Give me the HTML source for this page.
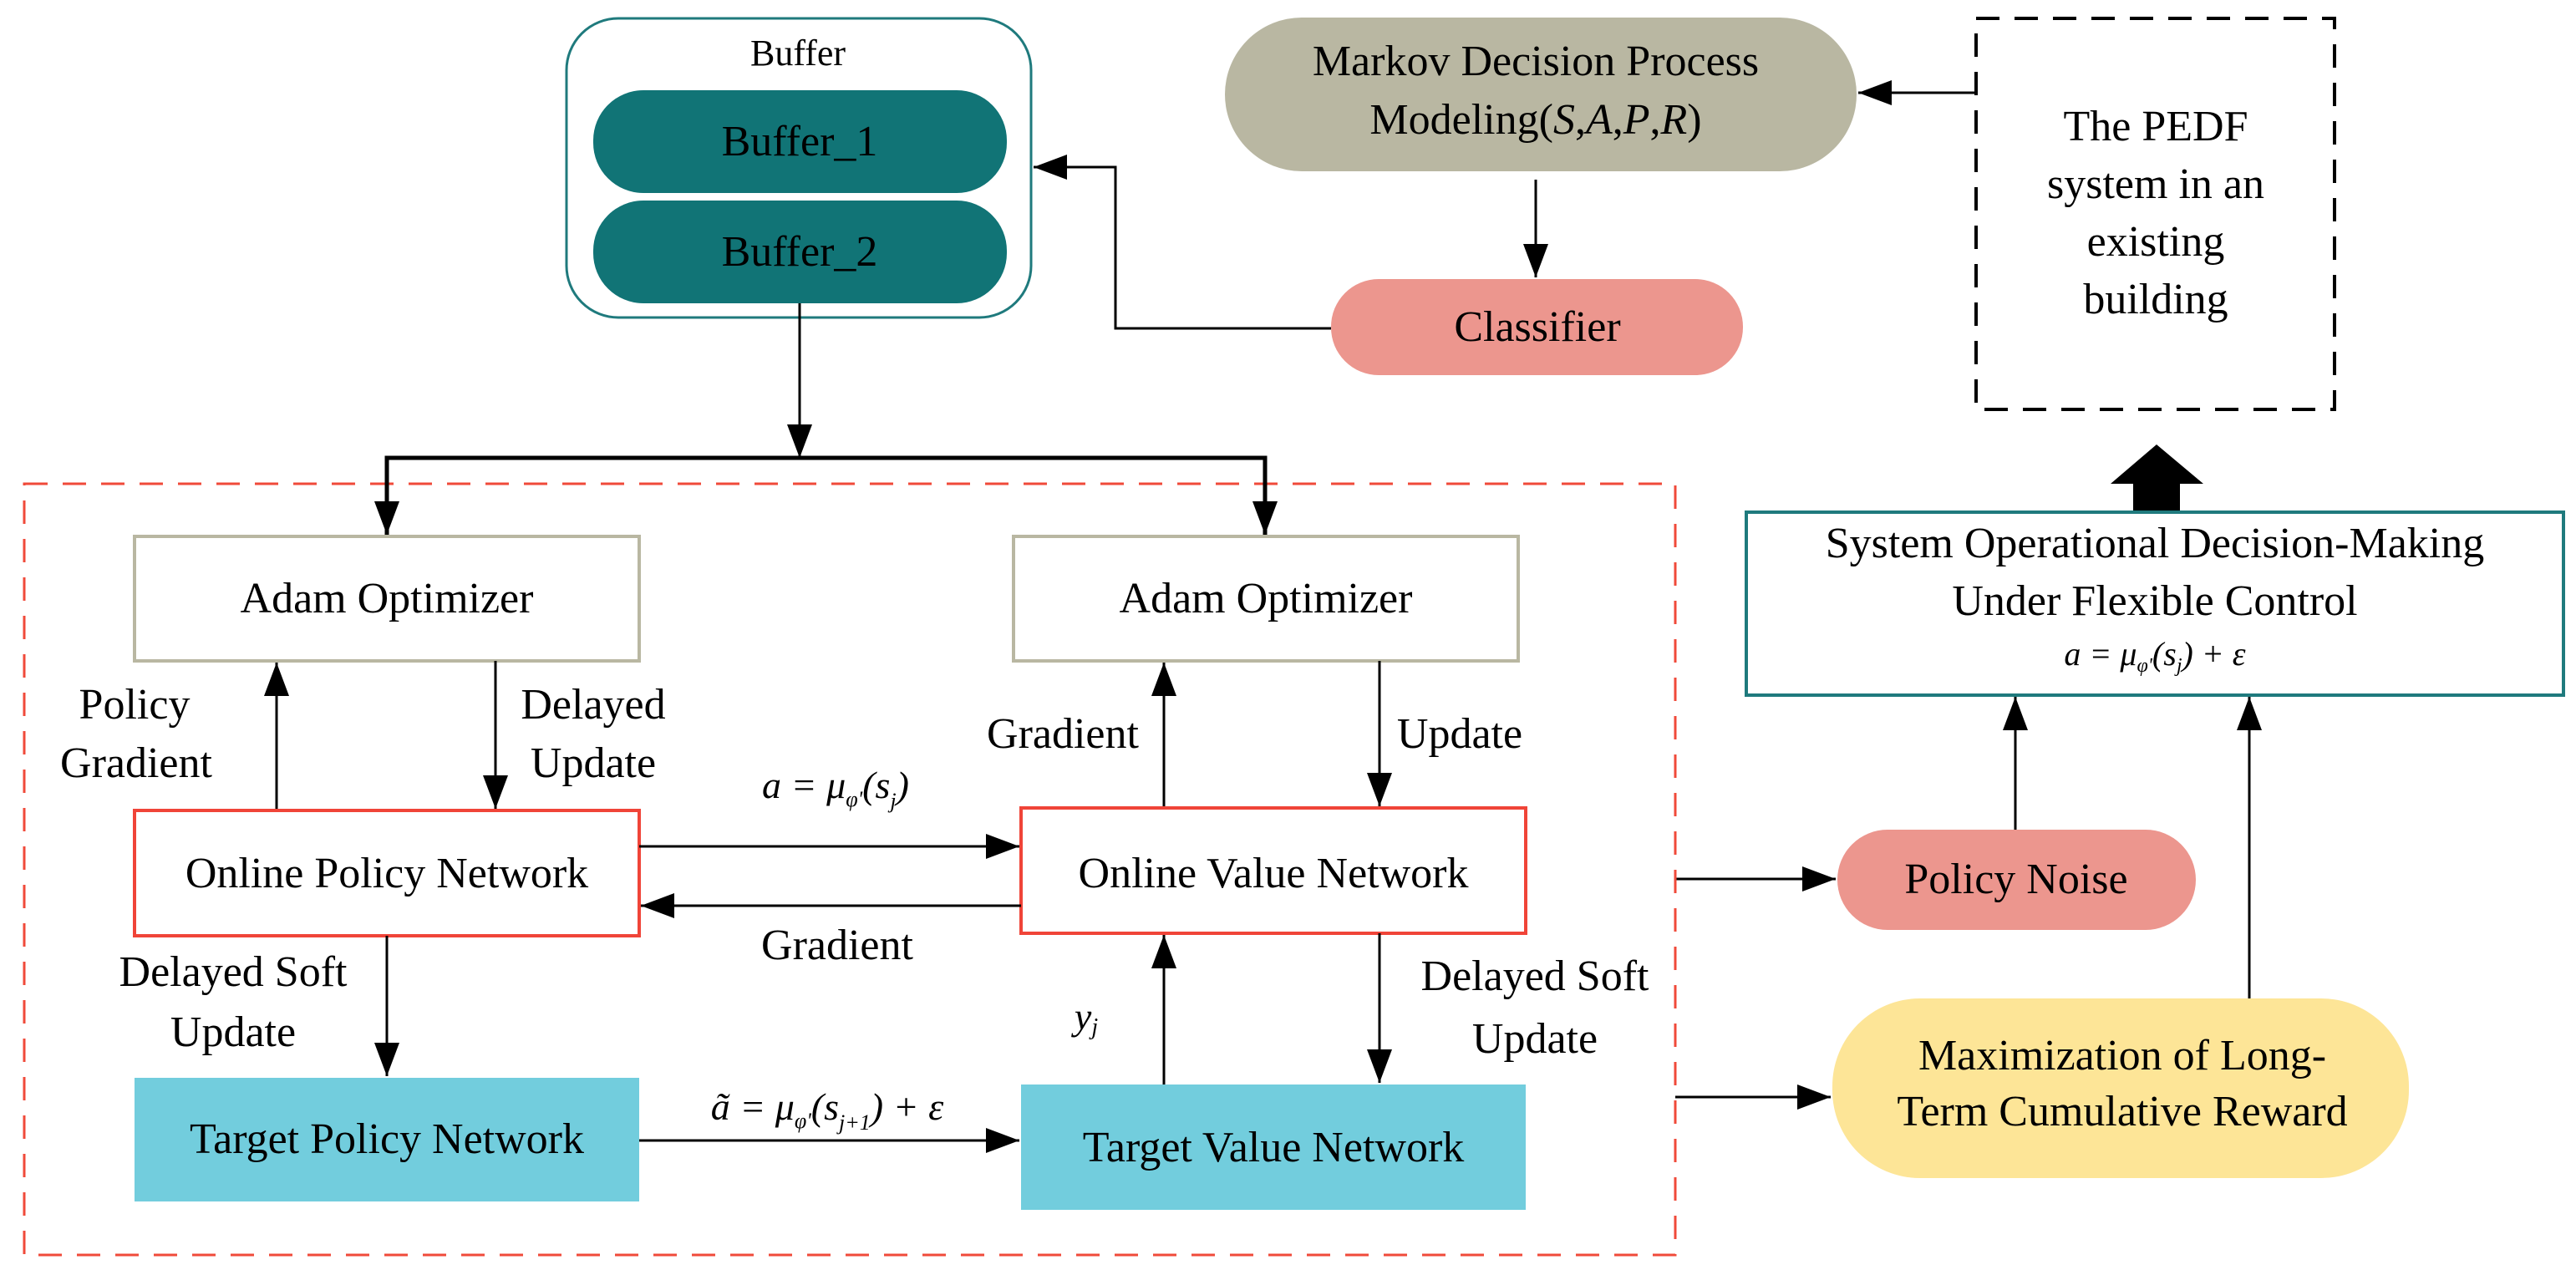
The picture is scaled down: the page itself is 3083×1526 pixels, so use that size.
<!DOCTYPE html>
<html><head><meta charset="utf-8"><style>
html,body{margin:0;padding:0;background:#fff;}
svg{display:block;}
svg text{font-family:"Liberation Serif","DejaVu Serif","Times New Roman",serif !important;fill:#000;}
</style></head><body>
<svg width="3083" height="1526" viewBox="0 0 3083 1526" xmlns="http://www.w3.org/2000/svg" font-family="'Liberation Serif', serif">
<defs>
<marker id="ab" viewBox="0 0 10 10" refX="10" refY="5" markerWidth="40" markerHeight="30" markerUnits="userSpaceOnUse" orient="auto" preserveAspectRatio="none">
<path d="M0,0 L10,5 L0,10 z" fill="#000"/></marker>
</defs>
<style>
.l{stroke:#000;stroke-width:3;fill:none;marker-end:url(#ab);}
.t{font-family:"Liberation Serif",serif;font-size:52px;text-anchor:middle;}
.m{font-family:"Liberation Serif",serif;font-size:46px;font-style:italic;text-anchor:middle;}
</style>

<!-- Buffer -->
<rect x="678" y="22" width="556" height="358" rx="62" fill="#fff" stroke="#1f7a7d" stroke-width="3"/>
<text class="t" x="955" y="78" style="font-size:44px">Buffer</text>
<rect x="710" y="108" width="495" height="123" rx="60" fill="#117476"/>
<text class="t" x="957" y="186">Buffer_1</text>
<rect x="710" y="240" width="495" height="123" rx="60" fill="#117476"/>
<text class="t" x="957" y="318">Buffer_2</text>

<!-- Markov -->
<rect x="1466" y="21" width="756" height="184" rx="92" fill="#b9b7a2"/>
<text class="t" x="1838" y="90">Markov Decision Process</text>
<text class="t" x="1838" y="160">Modeling(<tspan font-style="italic">S</tspan>,<tspan font-style="italic">A</tspan>,<tspan font-style="italic">P</tspan>,<tspan font-style="italic">R</tspan>)</text>
<line class="l" x1="1838" y1="215" x2="1838" y2="332"/>

<!-- Classifier -->
<rect x="1593" y="334" width="493" height="115" rx="57" fill="#ec968e"/>
<text class="t" x="1840" y="408">Classifier</text>
<polyline class="l" points="1593,393 1335,393 1335,200 1237,200" stroke-width="4"/>

<!-- PEDF -->
<rect x="2365" y="22" width="429" height="468" fill="none" stroke="#000" stroke-width="4" stroke-dasharray="28,18"/>
<text class="t" x="2580" y="168">The PEDF</text>
<text class="t" x="2580" y="237">system in an</text>
<text class="t" x="2580" y="306">existing</text>
<text class="t" x="2580" y="375">building</text>
<line class="l" x1="2365" y1="111" x2="2224" y2="111"/>

<!-- big arrow -->
<path d="M2553,611 L2553,579 L2526,579 L2581,532 L2637,579 L2609,579 L2609,611 z" fill="#000"/>

<!-- System box -->
<rect x="2090" y="613" width="978" height="219" fill="#fff" stroke="#1f7a7d" stroke-width="4"/>
<text class="t" x="2579" y="667">System Operational Decision-Making</text>
<text class="t" x="2579" y="736">Under Flexible Control</text>
<text class="m" x="2579" y="796" style="font-size:40px">a = μ<tspan font-size="24" dy="8">φ'</tspan><tspan dy="-8">(s</tspan><tspan font-size="24" dy="8">j</tspan><tspan dy="-8">) + ε</tspan></text>

<!-- Policy noise -->
<rect x="2199" y="993" width="429" height="120" rx="60" fill="#ec968e"/>
<text class="t" x="2413" y="1069">Policy Noise</text>
<line class="l" x1="2412" y1="993" x2="2412" y2="834"/>
<line class="l" x1="2005" y1="1052" x2="2197" y2="1052"/>

<!-- Max -->
<rect x="2193" y="1195" width="690" height="215" rx="105" fill="#fde597"/>
<text class="t" x="2540" y="1280">Maximization of Long-</text>
<text class="t" x="2540" y="1347">Term Cumulative Reward</text>
<line class="l" x1="2692" y1="1195" x2="2692" y2="834"/>
<line class="l" x1="2005" y1="1313" x2="2191" y2="1313"/>

<!-- Red dashed -->
<rect x="29" y="579" width="1976" height="923" fill="none" stroke="#f04a3a" stroke-width="3" stroke-dasharray="28,18"/>

<!-- buffer down & split -->
<line class="l" x1="957" y1="363" x2="957" y2="548"/>
<polyline points="463,640 463,548 1514,548 1514,640" fill="none" stroke="#000" stroke-width="5"/>
<line class="l" x1="463" y1="560" x2="463" y2="640"/>
<line class="l" x1="1514" y1="560" x2="1514" y2="640"/>

<!-- Adam -->
<rect x="161" y="642" width="604" height="149" fill="#fff" stroke="#b9b7a2" stroke-width="4"/>
<text class="t" x="463" y="733">Adam Optimizer</text>
<rect x="1213" y="642" width="604" height="149" fill="#fff" stroke="#b9b7a2" stroke-width="4"/>
<text class="t" x="1515" y="733">Adam Optimizer</text>

<line class="l" x1="331" y1="968" x2="331" y2="793"/>
<line class="l" x1="593" y1="791" x2="593" y2="968"/>
<text class="t" x="161" y="860">Policy</text>
<text class="t" x="163" y="930">Gradient</text>
<text class="t" x="710" y="860">Delayed</text>
<text class="t" x="710" y="930">Update</text>

<line class="l" x1="1393" y1="967" x2="1393" y2="793"/>
<line class="l" x1="1651" y1="791" x2="1651" y2="965"/>
<text class="t" x="1272" y="895">Gradient</text>
<text class="t" x="1747" y="895">Update</text>

<!-- Online -->
<rect x="161" y="970" width="604" height="150" fill="#fff" stroke="#f04438" stroke-width="4"/>
<text class="t" x="463" y="1062">Online Policy Network</text>
<rect x="1222" y="967" width="604" height="150" fill="#fff" stroke="#f04438" stroke-width="4"/>
<text class="t" x="1524" y="1062">Online Value Network</text>

<text class="m" x="1000" y="955">a = μ<tspan font-size="26" dy="10">φ'</tspan><tspan dy="-10">(s</tspan><tspan font-size="26" dy="12">j</tspan><tspan dy="-12">)</tspan></text>
<line class="l" x1="765" y1="1013" x2="1220" y2="1013" stroke-width="4"/>
<line class="l" x1="1222" y1="1084" x2="767" y2="1084" stroke-width="4"/>
<text class="t" x="1002" y="1148">Gradient</text>

<line class="l" x1="463" y1="1120" x2="463" y2="1288"/>
<text class="t" x="279" y="1180">Delayed Soft</text>
<text class="t" x="279" y="1252">Update</text>

<line class="l" x1="1393" y1="1298" x2="1393" y2="1119"/>
<text class="m" x="1300" y="1232">y<tspan font-size="28" dy="6">j</tspan></text>
<line class="l" x1="1651" y1="1117" x2="1651" y2="1296"/>
<text class="t" x="1837" y="1185">Delayed Soft</text>
<text class="t" x="1837" y="1260">Update</text>

<!-- Target -->
<rect x="161" y="1290" width="604" height="148" fill="#72cddd"/>
<text class="t" x="463" y="1380">Target Policy Network</text>
<rect x="1222" y="1298" width="604" height="150" fill="#72cddd"/>
<text class="t" x="1524" y="1390">Target Value Network</text>

<text class="m" x="990" y="1340">ã = μ<tspan font-size="26" dy="10">φ'</tspan><tspan dy="-10">(s</tspan><tspan font-size="26" dy="12">j+1</tspan><tspan dy="-12">) + ε</tspan></text>
<line class="l" x1="765" y1="1365" x2="1220" y2="1365" stroke-width="4"/>
</svg>
</body></html>
